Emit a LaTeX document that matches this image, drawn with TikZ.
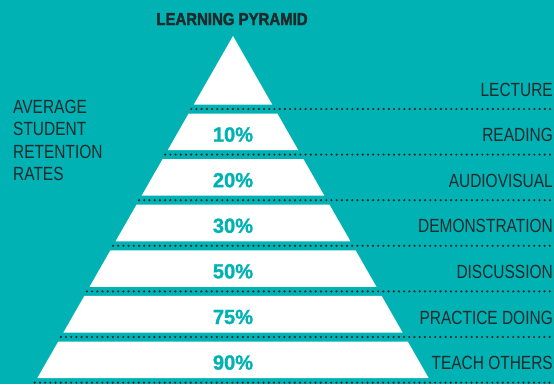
\documentclass[tikz,border=0pt]{standalone}
\usepackage{fontspec}
\setmainfont{Liberation Sans}
\newfontfamily\labelfont{Liberation Sans}[FakeStretch=0.81]
\newfontfamily\titlefont{Liberation Sans}[FakeStretch=0.87, BoldFeatures={FakeBold=2}]
\newfontfamily\ratefont{Liberation Sans}[FakeStretch=0.98, BoldFeatures={FakeBold=1.2}]
\usetikzlibrary{positioning}
\definecolor{pyrteal}{HTML}{00B2B4}
\definecolor{pyrdark}{HTML}{1E2A2C}

\begin{document}
\begin{tikzpicture}
                [
                x=1pt, y=-1pt,
                band/.style={fill=white, draw=none},
                level label/.style={anchor=base east, inner sep=0, text=pyrdark, font=\labelfont\fontsize{19.1}{22.3}\selectfont},
                rate label/.style={anchor=base, inner sep=0, text=pyrteal, font=\ratefont\bfseries\fontsize{20.5}{24}\selectfont},
                dots/.style={draw=pyrdark, line width=2.4pt, line cap=round, dash pattern=on 0pt off 5.2pt}
                ]
                % Background
                \fill[pyrteal] (0,0) rectangle (554,384);
                \useasboundingbox (0,0) rectangle (554,384);
                % Title
                \node[anchor=base, inner sep=0, text=pyrdark, font=\titlefont\bfseries\fontsize{17.2}{20}\selectfont] (title) at (232,25) {LEARNING PYRAMID};
                % Left caption
                \node[anchor=north west, inner sep=0, align=left, text=pyrdark, font=\labelfont\fontsize{19.1}{22.3}\selectfont] (caption) at (13,100) {AVERAGE\\STUDENT\\RETENTION\\RATES};
                % Top of the pyramid
                \fill[band] (233,36) -- ({233-0.572*68.5},104.5) -- ({233+0.572*68.5},104.5) -- cycle;
                % Lower bands
                \foreach \k in {1,...,6}{
                    \pgfmathsetmacro\ytop{109+45.6*(\k-1)+4.5}
                    \pgfmathsetmacro\ybot{109+45.6*\k-4.5}
                    \fill[band] ({233-0.572*(\ytop-36)},\ytop) -- ({233+0.572*(\ytop-36)},\ytop)
                        -- ({233+0.572*(\ybot-36)},\ybot) -- ({233-0.572*(\ybot-36)},\ybot) -- cycle;
                }
                % Dotted separators
                \foreach \k in {0,...,6}{
                    \pgfmathsetmacro\ysep{109+45.6*\k}
                    \coordinate (sepL\k) at ({233-0.572*(\ysep-36)},\ysep);
                    \coordinate (sepR\k) at (554,\ysep);
                    \draw[dots] (sepL\k) -- (sepR\k);
                }
                % Learning methods
                \foreach \k/\method in {0/LECTURE, 1/READING, 2/AUDIOVISUAL, 3/DEMONSTRATION, 4/DISCUSSION, 5/PRACTICE DOING, 6/TEACH OTHERS}
                    \node[level label] (method\k) at (553,{109+45.6*\k-13}) {\method};
                % Retention rates
                \foreach \k/\pct in {1/10, 2/20, 3/30, 4/50, 5/75, 6/90}
                    \node[rate label] (rate\k) at (233,{109+45.6*\k-13}) {\pct\%};
            \end{tikzpicture}
\end{document}
